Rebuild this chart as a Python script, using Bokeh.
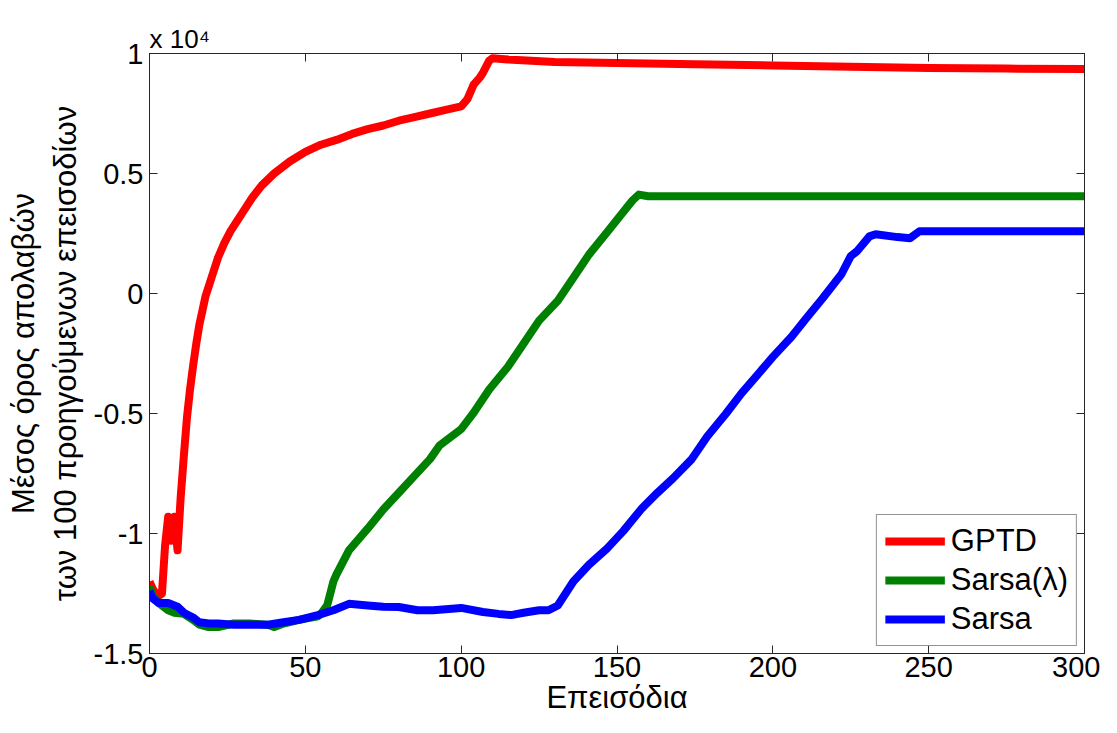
from bokeh.plotting import figure
from bokeh.models import (Range1d, LinearAxis, Legend, LegendItem, FixedTicker, Title,
                          CustomJSTickFormatter)
from bokeh.embed import file_html
from bokeh.resources import INLINE

# ---- data (values read in units of 10^4) ----
gptd_ep = [0, 1, 2, 3, 4, 5, 6, 7, 8, 9, 10, 11, 12, 13, 14, 15, 16, 17, 18, 20, 22, 24, 26, 28, 30,
           33, 36, 40, 45, 50, 55, 60, 65, 70, 75, 80, 85, 90, 95, 100, 102, 104, 106, 107, 109, 110,
           115, 130, 150, 175, 200, 225, 250, 275, 300]
gptd_val = [-1.20, -1.23, -1.25, -1.26, -1.25, -1.05, -0.93, -1.03, -0.93, -1.07, -0.85, -0.68, -0.52,
            -0.40, -0.30, -0.21, -0.13, -0.07, -0.01, 0.07, 0.15, 0.21, 0.26, 0.30, 0.34,
            0.40, 0.45, 0.50, 0.55, 0.59, 0.62, 0.64, 0.665, 0.685, 0.70, 0.72, 0.735, 0.75, 0.765,
            0.78, 0.81, 0.87, 0.90, 0.92, 0.97, 0.98,
            0.975, 0.965, 0.96, 0.955, 0.95, 0.945, 0.94, 0.937, 0.935]

sarsal_ep = [0, 1, 3, 6, 8, 11, 14, 16, 19, 22, 27, 32, 38, 40, 43, 48, 54, 55, 57, 59, 60, 64, 70, 75,
             80, 85, 90, 93, 100, 104, 109, 115, 120, 125, 131, 136, 141, 147, 152, 155, 157, 160,
             200, 250, 300]
sarsal_val = [-1.22, -1.26, -1.29, -1.32, -1.33, -1.335, -1.36, -1.38, -1.39, -1.39, -1.375, -1.375,
              -1.38, -1.39, -1.375, -1.36, -1.345, -1.335, -1.30, -1.20, -1.17, -1.07, -0.98, -0.90,
              -0.83, -0.76, -0.69, -0.634, -0.565, -0.497, -0.40, -0.305, -0.209, -0.113, -0.03, 0.066,
              0.162, 0.258, 0.34, 0.388, 0.412, 0.405, 0.405, 0.405, 0.405]

sarsa_ep = [0, 1, 3, 6, 9, 11, 14, 16, 19, 22, 27, 32, 38, 43, 48, 54, 59, 64, 70, 75, 80, 86, 91, 100,
            107, 112, 116, 120, 125, 128, 131, 136, 141, 147, 152, 158, 163, 168, 174, 179, 185, 190,
            195, 200, 206, 211, 216, 222, 225, 227, 231, 233, 240, 244, 247, 260, 280, 300]
sarsa_val = [-1.24, -1.27, -1.29, -1.29, -1.305, -1.33, -1.35, -1.37, -1.375, -1.375, -1.38, -1.38,
             -1.38, -1.37, -1.36, -1.34, -1.32, -1.293, -1.30, -1.305, -1.306, -1.32, -1.32, -1.31,
             -1.327, -1.335, -1.34, -1.33, -1.32, -1.32, -1.30, -1.20, -1.13, -1.06, -0.99, -0.895,
             -0.83, -0.77, -0.69, -0.595, -0.50, -0.415, -0.34, -0.264, -0.18, -0.099, -0.02, 0.08,
             0.156, 0.176, 0.238, 0.247, 0.235, 0.23, 0.259, 0.259, 0.259, 0.259]

series_names = ["GPTD", "Sarsa(λ)", "Sarsa"]
SCALE = 10000
x_ticks = [0, 50, 100, 150, 200, 250, 300]
y_ticks = [-15000, -10000, -5000, 0, 5000, 10000]
y_tick_labels = ["-1.5", "-1", "-0.5", "0", "0.5", "1"]

FONT = "Liberation Sans"
FS_TICK = "29px"
FS_LAB = "31px"
AX = "#262626"

W, H = 1100, 717
p = figure(width=W, height=H, output_backend="svg", toolbar_location=None,
           x_range=Range1d(0, 300), y_range=Range1d(-15000, 10000),
           min_border_left=149, min_border_top=53, min_border_right=W - 1084,
           min_border_bottom=H - 660)
p.title = None
p.background_fill_color = "white"
p.border_fill_color = "white"
p.grid.visible = False
p.outline_line_color = AX
p.outline_line_width = 1

for ax in [p.xaxis[0], p.yaxis[0]]:
    ax.axis_line_color = AX
    ax.major_tick_line_color = AX
    ax.minor_tick_line_color = None
    ax.major_tick_in = 8
    ax.major_tick_out = 0
    ax.major_label_text_font = FONT
    ax.major_label_text_font_size = FS_TICK
    ax.major_label_text_color = "black"
    ax.axis_label_text_font = FONT
    ax.axis_label_text_font_size = FS_LAB
    ax.axis_label_text_font_style = "normal"
    ax.axis_label_text_color = "black"

p.xaxis.ticker = FixedTicker(ticks=x_ticks)
p.yaxis.ticker = FixedTicker(ticks=y_ticks)
p.yaxis.major_label_overrides = {v: s for v, s in zip(y_ticks, y_tick_labels)}
p.xaxis.axis_label = "Επεισόδια"
p.yaxis.axis_label = "Μέσος όρος απολαβών\nτων 100 προηγούμενων επεισοδίων"
p.xaxis.major_label_standoff = 3
p.xaxis.axis_label_standoff = 0
p.yaxis.major_label_standoff = 6
p.yaxis.axis_label_standoff = 8

# box ticks on top and right (no labels)
blank = CustomJSTickFormatter(code="return ''")
top = LinearAxis(ticker=FixedTicker(ticks=x_ticks), formatter=blank)
right = LinearAxis(ticker=FixedTicker(ticks=y_ticks), formatter=blank)
for ax in [top, right]:
    ax.axis_line_color = AX
    ax.major_tick_line_color = AX
    ax.minor_tick_line_color = None
    ax.major_tick_in = 8
    ax.major_tick_out = 0
    ax.major_label_standoff = 0
    ax.major_label_text_font_size = "10px"
p.add_layout(top, "above")
p.add_layout(right, "right")

# exponent note above the axes
p.add_layout(Title(text="x 10⁴", align="left", offset=0, standoff=0,
                   text_font=FONT, text_font_size="26px", text_font_style="normal",
                   text_color="black"), "above")

LW = 8
colors = ["#ff0000", "#008000", "#0000ff"]
rends = []
for ep, val, c in [(gptd_ep, gptd_val, colors[0]), (sarsal_ep, sarsal_val, colors[1]),
                   (sarsa_ep, sarsa_val, colors[2])]:
    rends.append(p.line(ep, [v * SCALE for v in val], line_color=c, line_width=LW,
                        line_join="round"))

legend = Legend(items=[LegendItem(label=n, renderers=[r]) for n, r in zip(series_names, rends)],
                location="bottom_right")
legend.label_text_font = FONT
legend.label_text_font_size = FS_LAB
legend.label_text_color = "black"
legend.glyph_width = 60
legend.glyph_height = 36
legend.label_height = 36
legend.spacing = 3
legend.padding = 8
legend.margin = 7
legend.label_standoff = 6
legend.border_line_color = AX
legend.border_line_width = 1
legend.background_fill_alpha = 1
p.add_layout(legend, "center")

open("out.html", "w").write(file_html(p, INLINE))
